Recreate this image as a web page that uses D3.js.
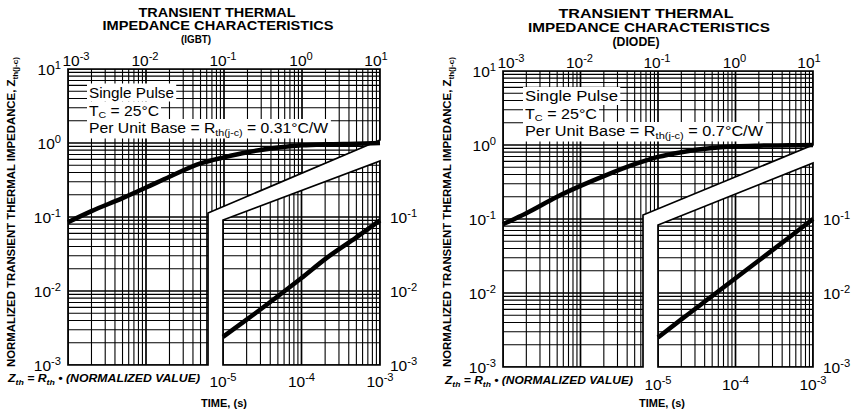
<!DOCTYPE html>
<html><head><meta charset="utf-8">
<script src="https://cdn.jsdelivr.net/npm/d3@7"></script>
<style>
body{margin:0;background:#fff}
svg{display:block}
text{font-family:"Liberation Sans",Arial,Helvetica,sans-serif;fill:#000}
</style>
</head><body>
<svg id="c" width="855" height="416"></svg>
<script>
// ---------- data ----------
const longTime  = [1e-3, 2e-3, 5e-3, 1e-2, 2e-2, 5e-2, 0.1, 0.2, 0.5, 1, 2, 5, 10];
const shortTime = [1e-5, 2e-5, 5e-5, 1e-4, 2e-4, 5e-4, 1e-3];
const igbtLongZ   = [0.085, 0.12, 0.18, 0.25, 0.35, 0.53, 0.64, 0.75, 0.87, 0.93, 0.96, 0.98, 1.0];
const igbtShortZ  = [0.0024, 0.0041, 0.0085, 0.015, 0.027, 0.053, 0.09];
const diodeLongZ  = [0.085, 0.12, 0.2, 0.28, 0.38, 0.55, 0.69, 0.8, 0.91, 0.96, 0.98, 0.99, 1.0];
const diodeShortZ = [0.0025, 0.0044, 0.0091, 0.0158, 0.0275, 0.057, 0.1];
const topTickExp    = [-3, -2, -1, 0, 1];
const bottomTickExp = [-5, -4, -3];
const leftTickExp   = [1, 0, -1, -2, -3];
const rightTickExp  = [-1, -2, -3];
const titleLines  = ["TRANSIENT THERMAL", "IMPEDANCE CHARACTERISTICS"];
const deviceNames = ["(IGBT)", "(DIODE)"];
const baseValues  = ["0.31°C/W", "0.7°C/W"];
const longDomain  = [1e-3, 10];
const shortDomain = [1e-5, 1e-3];
const zDomain     = [1e-3, 10];
// break (white gap) edges, in normalized-value units
const mainBreakZ = [[0.113, 1.1], [0.113, 1.0]];
const subBreakZ  = [[0.091, 0.57], [0.083, 0.57]];

// ---------- layout ----------
const panels = [
  {idx:0, longZ: igbtLongZ, shortZ: igbtShortZ,
   x0:68, x1:380, y0:69, y1:365, xs:223, gap:15,
   title:{x:[217,218,196], y:[17,30,43], w:[157,231,30], fs:[12,12,11]},
   note:{x:89, y:[97.5,115.5,133], w:[85,70,239]}, yt:{x:15, y:367, w:310},
   formula:{x:8, y:382, w:192}, time:{x:224, y:407}, botY:387},
  {idx:1, longZ: diodeLongZ, shortZ: diodeShortZ,
   x0:503, x1:813, y0:71, y1:367, xs:658, gap:15,
   title:{x:[646,649,636], y:[18,32,46], w:[175,242,47], fs:[12,12,12]},
   note:{x:525, y:[101,119,136], w:[93,72,238]}, yt:{x:451, y:367, w:310},
   formula:{x:445, y:384, w:188}, time:{x:662, y:407}, botY:390}
];

const svg = d3.select("#c");
const defs = svg.append("defs");

function logVals(lo, hi){
  const v=[]; const a=Math.round(Math.log10(lo)), b=Math.round(Math.log10(hi));
  for(let e=a;e<b;e++) for(let k=1;k<10;k++) v.push(k*Math.pow(10,e));
  v.push(Math.pow(10,b)); return v;
}
function isDecade(v){ return Math.abs(Math.log10(v)-Math.round(Math.log10(v)))<1e-9; }

function pow10(g, x, y, e, anchor, size){
  const t = g.append("text").attr("x",x).attr("y",y).attr("text-anchor",anchor)
    .style("font-size",size+"px");
  t.append("tspan").text("10");
  t.append("tspan").attr("dy",-6).style("font-size",(size*0.72)+"px").text(e<0?"-"+(-e):String(e));
  return t;
}

panels.forEach(p=>{
  const g = svg.append("g");
  const xL = d3.scaleLog().domain(longDomain).range([p.x0,p.x1]);
  const xS = d3.scaleLog().domain(shortDomain).range([p.xs,p.x1]);
  const y  = d3.scaleLog().domain(zDomain).range([p.y1,p.y0]);
  const xg = p.xs - p.gap;
  const mb = mainBreakZ[p.idx], sb = subBreakZ[p.idx];

  const mainPoly = [[p.x0,p.y0],[p.x1,p.y0],[p.x1,y(mb[1])],[xg,y(mb[0])],[xg,p.y1],[p.x0,p.y1]];
  const subPoly  = [[p.xs,p.y1],[p.xs,y(sb[0])],[p.x1,y(sb[1])],[p.x1,p.y1]];
  const polyStr = pts => pts.map(d=>d.join(",")).join(" ");

  defs.append("clipPath").attr("id","cm"+p.idx).append("polygon").attr("points",polyStr(mainPoly));
  defs.append("clipPath").attr("id","cs"+p.idx).append("polygon").attr("points",polyStr(subPoly));

  const gridStroke = d=>isDecade(d)?1.7:1.1;
  // main grid
  const gm = g.append("g").attr("clip-path",`url(#cm${p.idx})`);
  gm.selectAll("line.v").data(logVals(...longDomain)).join("line")
    .attr("x1",d=>xL(d)).attr("x2",d=>xL(d)).attr("y1",p.y0).attr("y2",p.y1)
    .attr("stroke","#000").attr("stroke-width",gridStroke);
  gm.selectAll("line.h").data(logVals(...zDomain)).join("line")
    .attr("y1",d=>y(d)).attr("y2",d=>y(d)).attr("x1",p.x0).attr("x2",p.x1)
    .attr("stroke","#000").attr("stroke-width",gridStroke);

  // sub grid
  const gs = g.append("g").attr("clip-path",`url(#cs${p.idx})`);
  gs.selectAll("line.v").data(logVals(...shortDomain)).join("line")
    .attr("x1",d=>xS(d)).attr("x2",d=>xS(d)).attr("y1",p.y0).attr("y2",p.y1)
    .attr("stroke","#000").attr("stroke-width",gridStroke);
  gs.selectAll("line.h").data(logVals(1e-3,1)).join("line")
    .attr("y1",d=>y(d)).attr("y2",d=>y(d)).attr("x1",p.xs).attr("x2",p.x1)
    .attr("stroke","#000").attr("stroke-width",gridStroke);

  // notes with white backing
  const notes = g.append("g");
  const fs = 14;
  const n1 = notes.append("text").attr("x",p.note.x).attr("y",p.note.y[0]).style("font-size",fs+"px")
    .attr("textLength",p.note.w[0]).attr("lengthAdjust","spacingAndGlyphs").text("Single Pulse");
  const n2 = notes.append("text").attr("x",p.note.x).attr("y",p.note.y[1]).style("font-size",fs+"px")
    .attr("textLength",p.note.w[1]).attr("lengthAdjust","spacingAndGlyphs");
  n2.append("tspan").text("T");
  n2.append("tspan").attr("dy",2).style("font-size","9.5px").text("C");
  n2.append("tspan").attr("dy",-2).text(" = 25°C");
  const n3 = notes.append("text").attr("x",p.note.x).attr("y",p.note.y[2]).style("font-size",fs+"px")
    .attr("textLength",p.note.w[2]).attr("lengthAdjust","spacingAndGlyphs");
  n3.append("tspan").text("Per Unit Base = R");
  n3.append("tspan").attr("dy",2.5).style("font-size","9.5px").text("th(j-c)");
  n3.append("tspan").attr("dy",-2.5).text(" = " + baseValues[p.idx]);
  const boxes = [n1,n2,n3].map(n=>n.node().getBBox());
  boxes.forEach((b,i)=>{
    notes.insert("rect","text").attr("x",b.x-2).attr("y",b.y-1).attr("width",b.width+4).attr("height",b.height+2).attr("fill","#fff");
  });

  // outlines
  g.append("polygon").attr("points",polyStr(mainPoly)).attr("fill","none").attr("stroke","#000").attr("stroke-width",1.7);
  g.append("polygon").attr("points",polyStr(subPoly)).attr("fill","none").attr("stroke","#000").attr("stroke-width",1.7);

  // curves
  const lineL = d3.line().x(d=>xL(d[0])).y(d=>y(d[1])).curve(d3.curveMonotoneX);
  const lineS = d3.line().x(d=>xS(d[0])).y(d=>y(d[1])).curve(d3.curveMonotoneX);
  g.append("path").attr("d",lineL(longTime.map((t,i)=>[t,p.longZ[i]])))
    .attr("fill","none").attr("stroke","#000").attr("stroke-width",4.5).attr("stroke-linecap","butt");
  g.append("path").attr("d",lineS(shortTime.map((t,i)=>[t,p.shortZ[i]])))
    .attr("fill","none").attr("stroke","#000").attr("stroke-width",4.5).attr("stroke-linecap","butt");

  // tick labels
  const tsz = 15.5;
  topTickExp.forEach((e,i)=>{
    const xx = xL(Math.pow(10,e));
    const shift = i===0 ? 8 : (i===topTickExp.length-1 ? -4 : -1);
    pow10(g, xx+shift, p.y0-3, e, "middle", tsz);
  });
  bottomTickExp.forEach(e=>{
    pow10(g, xS(Math.pow(10,e)), p.botY, e, "middle", tsz);
  });
  leftTickExp.forEach(e=>{
    pow10(g, p.x0-7, y(Math.pow(10,e))+6, e, "end", tsz);
  });
  rightTickExp.forEach(e=>{
    pow10(g, p.x1+10, y(Math.pow(10,e))+6, e, "start", tsz);
  });

  // titles
  const tl = [titleLines[0], titleLines[1], deviceNames[p.idx]];
  tl.forEach((s,i)=>{
    g.append("text").attr("x",p.title.x[i]).attr("y",p.title.y[i]).attr("text-anchor","middle")
      .style("font-size",p.title.fs[i]+"px").style("font-weight","bold")
      .attr("textLength",p.title.w[i]).attr("lengthAdjust","spacingAndGlyphs").text(s);
  });

  // y title
  const yt = g.append("text").attr("transform",`translate(${p.yt.x},${p.yt.y}) rotate(-90)`)
    .style("font-size","10.5px").style("font-weight","bold")
    .attr("textLength",p.yt.w).attr("lengthAdjust","spacingAndGlyphs");
  yt.append("tspan").text("NORMALIZED TRANSIENT THERMAL IMPEDANCE, Z");
  yt.append("tspan").attr("dy",3).style("font-size","7.5px").text("th(j-c)");

  // formula
  const f = g.append("text").attr("x",p.formula.x).attr("y",p.formula.y)
    .style("font-size","10.5px").style("font-weight","bold").style("font-style","italic")
    .attr("textLength",p.formula.w).attr("lengthAdjust","spacingAndGlyphs");
  f.append("tspan").text("Z");
  f.append("tspan").attr("dy",2.5).style("font-size","7.5px").text("th");
  f.append("tspan").attr("dy",-2.5).text(" = R");
  f.append("tspan").attr("dy",2.5).style("font-size","7.5px").text("th");
  f.append("tspan").attr("dy",-2.5).text(" • (NORMALIZED VALUE)");

  g.append("text").attr("x",p.time.x).attr("y",p.time.y).attr("text-anchor","middle")
    .style("font-size","11px").style("font-weight","bold").text("TIME, (s)");
});
</script>
</body></html>
